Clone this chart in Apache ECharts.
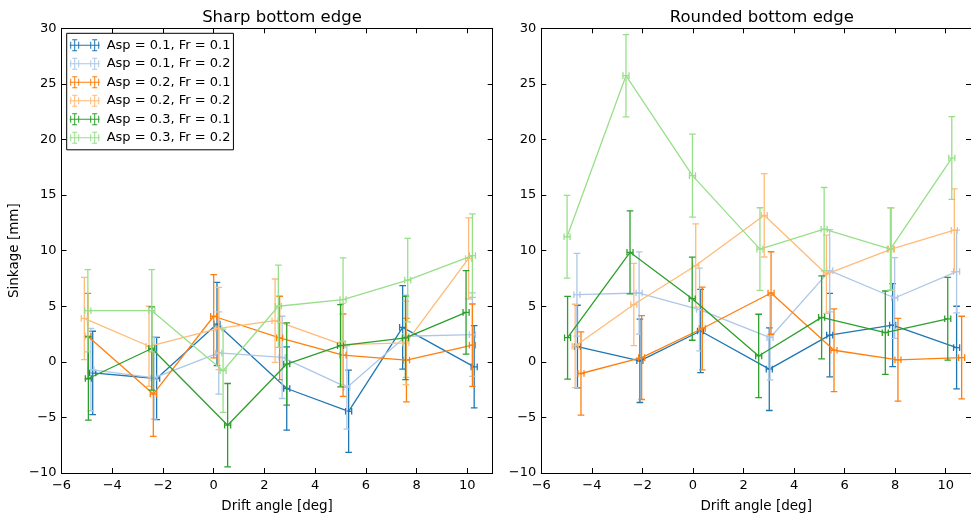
<!DOCTYPE html>
<html>
<head>
<meta charset="utf-8">
<script src="https://cdn.jsdelivr.net/npm/echarts@6/dist/echarts.min.js"></script>
<style>
html,body{margin:0;padding:0;background:#fff;}
#chart{width:971px;height:518px;}
</style>
</head>
<body>
<div id="chart"></div>
<script>
// ---------- data ----------
const seriesNames = [
  'Asp = 0.1, Fr = 0.1', 'Asp = 0.1, Fr = 0.2',
  'Asp = 0.2, Fr = 0.1', 'Asp = 0.2, Fr = 0.2',
  'Asp = 0.3, Fr = 0.1', 'Asp = 0.3, Fr = 0.2'
];
const panelTitles = ['Sharp bottom edge', 'Rounded bottom edge'];
const xTickValues = [-6, -4, -2, 0, 2, 4, 6, 8, 10];
const yTickValues = [-10, -5, 0, 5, 10, 15, 20, 25, 30];

// Sharp bottom edge: drift angle, sinkage, sinkage error (one row per series)
const sharpAngle = [
  [-4.77, -2.25, 0.13, 2.88, 5.32, 7.45, 10.27],
  [-4.84, -2.35, 0.20, 2.70, 5.25, 7.58, 10.20],
  [-4.96, -2.38, 0.00, 2.60, 5.10, 7.60, 10.20],
  [-5.10, -2.55, 0.20, 2.42, 5.07, 7.58, 10.05],
  [-4.94, -2.44, 0.55, 2.88, 5.00, 7.56, 9.95],
  [-4.96, -2.44, 0.37, 2.55, 5.10, 7.65, 10.20]
];
const sharpSinkage = [
  [-1.0, -1.5, 3.4, -2.4, -4.45, 3.1, -0.45],
  [-0.7, -1.45, 0.8, 0.4, -2.3, 2.3, 2.45],
  [2.3, -2.9, 4.1, 2.15, 0.6, 0.15, 1.5],
  [3.9, 1.4, 3.0, 3.7, 1.55, 1.7, 9.3],
  [-1.5, 1.2, -5.7, -0.2, 1.45, 2.15, 4.45],
  [4.6, 4.6, -0.8, 5.0, 5.6, 7.35, 9.55]
];
const sharpErr = [
  [3.75, 3.7, 3.75, 3.75, 3.7, 3.75, 3.7],
  [3.7, 3.7, 3.7, 3.7, 3.75, 3.7, 3.75],
  [3.85, 3.8, 3.75, 3.75, 3.7, 3.75, 3.7],
  [3.7, 3.6, 3.7, 3.75, 3.7, 3.75, 3.65],
  [3.75, 3.75, 3.75, 3.7, 3.7, 3.75, 3.75],
  [3.7, 3.7, 3.75, 3.7, 3.75, 3.75, 3.75]
];

// Rounded bottom edge
const roundAngle = [
  [-4.57, -2.10, 0.30, 3.02, 5.41, 7.90, 10.43],
  [-4.59, -2.13, 0.26, 3.05, 5.41, 7.98, 10.43],
  [-4.43, -2.03, 0.37, 3.09, 5.58, 8.11, 10.63],
  [-4.66, -2.34, 0.11, 2.82, 5.28, 7.85, 10.34],
  [-4.96, -2.49, -0.03, 2.60, 5.09, 7.61, 10.08],
  [-4.98, -2.65, -0.02, 2.65, 5.19, 7.81, 10.24]
];
const roundSinkage = [
  [1.37, 0.09, 2.77, -0.66, 2.4, 3.3, 1.28],
  [6.04, 6.19, 4.7, 2.17, 8.2, 5.74, 8.12],
  [-1.05, 0.38, 3.0, 6.19, 1.04, 0.18, 0.38],
  [1.43, 5.15, 8.66, 13.18, 7.88, 10.14, 11.84],
  [2.17, 9.85, 5.68, 0.53, 4.0, 2.62, 3.87],
  [11.25, 25.74, 16.75, 10.14, 11.93, 10.14, 18.33]
];
const roundErr = [
  [3.72, 3.75, 3.75, 3.72, 3.75, 3.73, 3.72],
  [3.72, 3.7, 3.72, 3.8, 3.7, 3.63, 3.72],
  [3.74, 3.77, 3.72, 3.71, 3.72, 3.72, 3.72],
  [3.75, 3.7, 3.74, 3.75, 3.52, 3.7, 3.72],
  [3.72, 3.73, 3.74, 3.75, 3.73, 3.75, 3.72],
  [3.73, 3.7, 3.74, 3.72, 3.75, 3.7, 3.72]
];
const angleErr = 0.12;

// ---------- styling ----------
const colors = ['#1f77b4', '#aec7e8', '#ff7f0e', '#ffbb78', '#2ca02c', '#98df8a'];
const FONT = 'DejaVu Sans';
const LW = 1.3;
const CAP = 3.3;

const fmt = v => {
  if (xTickValues.indexOf(v) < 0 && yTickValues.indexOf(v) < 0) return '';
  return v < 0 ? '\u2212' + Math.abs(v) : String(v);
};

const legendGlyph = 'path://' +
  'M0,5.5h30v1h-30z' +
  'M0.5,2.5h1v7h-1z M8.5,2.5h1v7h-1z M4.5,0h1v12h-1z M2.5,0h5v1h-5z M2.5,11h5v1h-5z' +
  'M20.5,2.5h1v7h-1z M28.5,2.5h1v7h-1z M24.5,0h1v12h-1z M22.5,0h5v1h-5z M22.5,11h5v1h-5z';

const grids = [
  {left: 61.5, top: 28.3, width: 431.2, height: 447.4},
  {left: 541.3, top: 28.3, width: 430.7, height: 447.4}
];

function makeX(gi, pos) {
  const main = pos === 'bottom';
  return {
    type: 'value', gridIndex: gi, position: pos, min: -6, max: 11, interval: 2,
    axisLine: {show: true, onZero: false, lineStyle: {color: '#000', width: 1}},
    axisTick: {show: true, inside: true, length: 5, lineStyle: {color: '#000', width: 1}},
    axisLabel: {show: main, showMaxLabel: false, formatter: fmt, margin: 6,
      fontFamily: FONT, fontSize: 13, color: '#000'},
    splitLine: {show: false},
    name: main ? 'Drift angle [deg]' : '',
    nameLocation: 'middle', nameGap: 26,
    nameTextStyle: {fontFamily: FONT, fontSize: 13.5, color: '#000'}
  };
}
function makeY(gi, pos) {
  const main = pos === 'left';
  return {
    type: 'value', gridIndex: gi, position: pos, min: -10, max: 30, interval: 5,
    axisLine: {show: true, onZero: false, lineStyle: {color: '#000', width: 1}},
    axisTick: {show: true, inside: true, length: 5, lineStyle: {color: '#000', width: 1}},
    axisLabel: {show: main, formatter: fmt, margin: 5,
      fontFamily: FONT, fontSize: 13, color: '#000'},
    splitLine: {show: false},
    name: (main && gi === 0) ? 'Sinkage [mm]' : '',
    nameLocation: 'middle', nameGap: 40, nameRotate: 90,
    nameTextStyle: {fontFamily: FONT, fontSize: 13.5, color: '#000'}
  };
}

function errRender(color) {
  return function (params, api) {
    const x = api.value(0), y = api.value(1), e = api.value(2), xe = api.value(3);
    const top = api.coord([x, y + e]);
    const bot = api.coord([x, y - e]);
    const l = api.coord([x - xe, y]);
    const r = api.coord([x + xe, y]);
    const st = {stroke: color, lineWidth: LW, fill: null};
    const ln = (x1, y1, x2, y2) => ({type: 'line', shape: {x1, y1, x2, y2}, style: st});
    return {
      type: 'group',
      children: [
        ln(top[0], top[1], bot[0], bot[1]),
        ln(top[0] - CAP, top[1], top[0] + CAP, top[1]),
        ln(bot[0] - CAP, bot[1], bot[0] + CAP, bot[1]),
        ln(l[0], l[1], r[0], r[1]),
        ln(l[0], l[1] - CAP, l[0], l[1] + CAP),
        ln(r[0], r[1] - CAP, r[0], r[1] + CAP)
      ]
    };
  };
}

const panels = [
  {angle: sharpAngle, sink: sharpSinkage, err: sharpErr},
  {angle: roundAngle, sink: roundSinkage, err: roundErr}
];

const series = [];
panels.forEach((p, pi) => {
  seriesNames.forEach((name, si) => {
    const pts = p.angle[si].map((a, k) => [a, p.sink[si][k]]);
    const errs = p.angle[si].map((a, k) => [a, p.sink[si][k], p.err[si][k], angleErr]);
    series.push({
      type: 'line', name: name, xAxisIndex: pi * 2, yAxisIndex: pi * 2,
      data: pts, showSymbol: false, symbol: 'none', animation: false,
      lineStyle: {color: colors[si], width: LW}, itemStyle: {color: colors[si]},
      z: 2 + si
    });
    series.push({
      type: 'custom', name: name, xAxisIndex: pi * 2, yAxisIndex: pi * 2,
      data: errs, renderItem: errRender(colors[si]), animation: false,
      encode: {x: 0, y: 1}, itemStyle: {color: colors[si]}, clip: true,
      z: 2 + si
    });
  });
});

const option = {
  animation: false,
  backgroundColor: '#fff',
  textStyle: {fontFamily: FONT},
  title: panelTitles.map((t, i) => ({
    text: t, left: grids[i].left + 215.5, top: 4, textAlign: 'center',
    textStyle: {fontFamily: FONT, fontSize: 16.5, fontWeight: 'normal', color: '#000'}
  })),
  grid: grids,
  xAxis: [makeX(0, 'bottom'), makeX(0, 'top'), makeX(1, 'bottom'), makeX(1, 'top')],
  yAxis: [makeY(0, 'left'), makeY(0, 'right'), makeY(1, 'left'), makeY(1, 'right')],
  legend: {
    show: true, orient: 'vertical', left: 66.7, top: 33.3,
    data: seriesNames.map(n => ({name: n, icon: legendGlyph})),
    itemWidth: 30, itemHeight: 12, itemGap: 4.5,
    selectedMode: false,
    backgroundColor: '#fff', borderColor: '#000', borderWidth: 1,
    padding: [5, 3, 5, 3],
    textStyle: {fontFamily: FONT, fontSize: 13, color: '#000', lineHeight: 14, padding: [0, 0, 0, 2]},
    z: 20
  },
  series: series
};

const chart = echarts.init(document.getElementById('chart'), null, {renderer: 'canvas'});
chart.setOption(option);
</script>
</body>
</html>
